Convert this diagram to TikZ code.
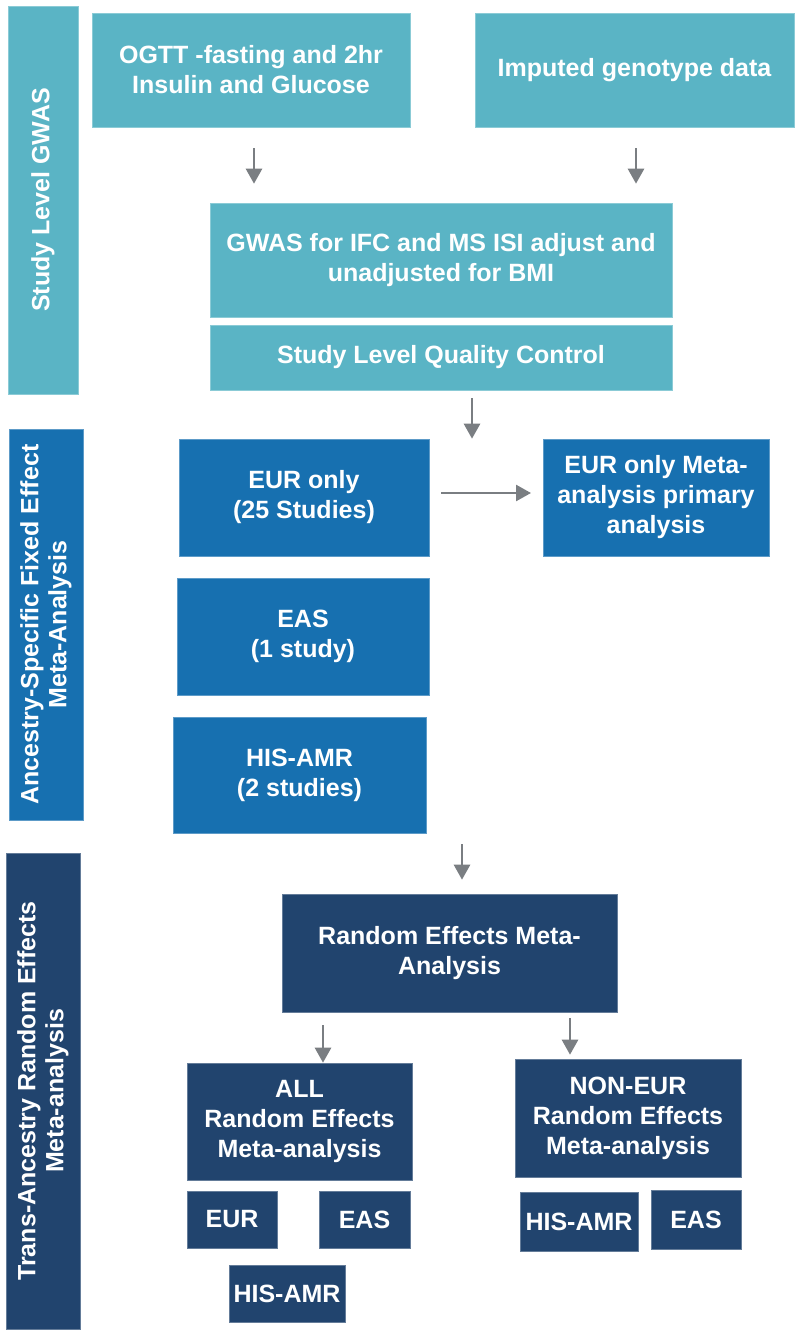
\documentclass[tikz,border=0pt]{standalone}
\usepackage{fontspec}
\setmainfont{Liberation Sans}
\usetikzlibrary{arrows.meta}
\definecolor{tealc}{HTML}{5AB4C5}
\definecolor{bluec}{HTML}{1770B0}
\definecolor{navyc}{HTML}{21446E}
\definecolor{arrgray}{HTML}{7A7E82}
\newcommand\mybox[7]{\node[#1, minimum width={(#4-#2)*1pt}, minimum height={(#5-#3)*1pt}]
  (#6) at ({(#2+#4)/2},{(#3+#5)/2}) {#7};}
\begin{document}
\begin{tikzpicture}[x=1pt,y=-1pt,
  box/.style={inner sep=0pt, text=white, align=center,
    font=\fontsize{25}{30}\selectfont\bfseries},
  tealbox/.style={box, fill=tealc, draw=tealc!70!white, line width=0.6pt},
  bluebox/.style={box, fill=bluec, draw=bluec!70!white, line width=0.6pt},
  navybox/.style={box, fill=navyc, draw=navyc!70!white, line width=0.6pt},
  sidetext/.style={rotate=90, text=white, align=center, inner sep=0pt,
    font=\fontsize{25}{28}\selectfont\bfseries},
  arr/.style={draw=arrgray, line width=2.6pt, -{Triangle[length=15pt,width=16pt]}}]
\useasboundingbox (0,0) rectangle (800,1335);
\fill[white] (0,0) rectangle (800,1335);

% side bars
\mybox{tealbox}{8}{6}{78}{394}{side1}{}
\node[sidetext] (side1t) at (side1.center) {Study Level GWAS};
\mybox{bluebox}{9}{429}{83}{820}{side2}{}
\node[sidetext] (side2t) at (side2.center) {Ancestry-Specific Fixed Effect\\Meta-Analysis};
\mybox{navybox}{6}{853}{80}{1329}{side3}{}
\node[sidetext] (side3t) at (side3.center) {Trans-Ancestry Random Effects\\Meta-analysis};

% study level
\mybox{tealbox}{92}{13}{410}{127}{ogtt}{OGTT -fasting and 2hr\\Insulin and Glucose}
\mybox{tealbox}{475}{13}{794}{127}{imp}{Imputed genotype data}
\mybox{tealbox}{210}{203}{672}{317}{gwas}{GWAS for IFC and MS ISI adjust and\\unadjusted for BMI}
\mybox{tealbox}{210}{325}{672}{390}{qc}{Study Level Quality Control}

\coordinate (a1s) at (254,148);
\coordinate (a2s) at (636,148);
\draw[arr] (a1s) -- ([yshift=19pt]a1s |- gwas.north);
\draw[arr] (a2s) -- ([yshift=19pt]a2s |- gwas.north);

% ancestry specific
\mybox{bluebox}{179}{439}{429}{556}{eur}{EUR only\\(25 Studies)}
\mybox{bluebox}{543}{439}{769}{556}{eurm}{EUR only Meta-\\analysis primary\\analysis}
\mybox{bluebox}{177}{578}{429}{695}{eas}{EAS\\(1 study)}
\mybox{bluebox}{173}{717}{426}{833}{his}{HIS-AMR\\(2 studies)}

\coordinate (a3s) at (472,398);
\draw[arr] (a3s) -- (a3s |- eur.north);
\coordinate (a4s) at (441,493);
\coordinate (a4e) at (531,493);
\draw[arr] (a4s) -- (a4e);

% trans-ancestry
\mybox{navybox}{282}{894}{617}{1012}{re}{Random Effects Meta-\\Analysis}
\mybox{navybox}{187}{1063}{412}{1180}{all}{ALL\\Random Effects\\Meta-analysis}
\mybox{navybox}{515}{1059}{741}{1177}{noneur}{NON-EUR\\Random Effects\\Meta-analysis}
\mybox{navybox}{187}{1191}{277}{1248}{s1}{EUR}
\mybox{navybox}{319}{1191}{410}{1248}{s2}{EAS}
\mybox{navybox}{229}{1265}{345}{1322}{s3}{HIS-AMR}
\mybox{navybox}{520}{1192}{638}{1251}{s4}{HIS-AMR}
\mybox{navybox}{651}{1190}{741}{1249}{s5}{EAS}

\coordinate (a5s) at (462,844);
\draw[arr] (a5s) -- ([yshift=14pt]a5s |- re.north);
\coordinate (a6s) at (323,1025);
\draw[arr] (a6s) -- (a6s |- all.north);
\coordinate (a7s) at (570,1018);
\draw[arr] (a7s) -- ([yshift=4pt]a7s |- noneur.north);
\end{tikzpicture}
\end{document}
